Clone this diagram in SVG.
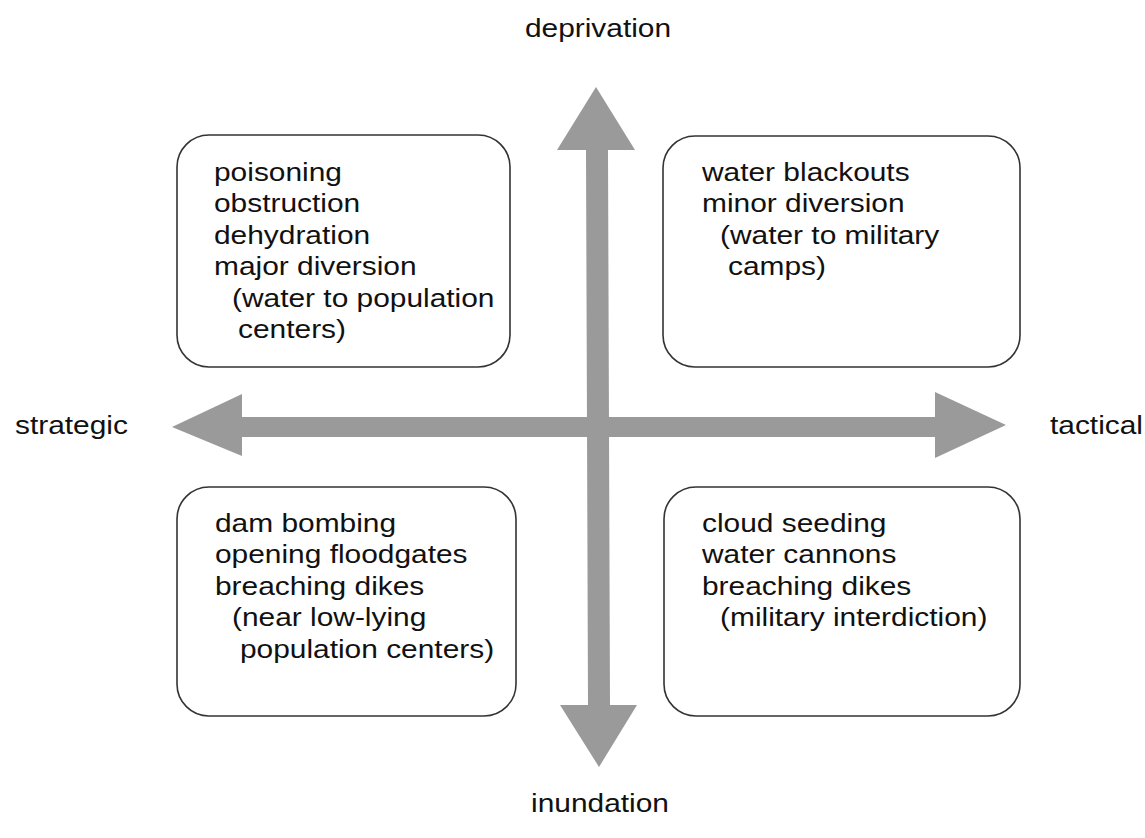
<svg xmlns="http://www.w3.org/2000/svg" width="1145" height="838" viewBox="0 0 1145 838">
<style>
.box{fill:#fff;stroke:#333;stroke-width:1.6}
.t{font-family:"Liberation Sans",Arial,sans-serif;font-size:26px;fill:#111}
.axis{fill:#9a9a9a;stroke:none}
</style>
<rect width="1145" height="838" fill="#fff"/>
<g id="connectors">
<polygon class="axis" points="596,87 635,150 608,150 610,705 637,705 599,767 560,705 588,705 586,150 557,150"/>
<polygon class="axis" points="172,427 242,394 242,417 935,417 935,392 1006,425 935,458 935,437 242,437 242,456"/>
</g>
<g id="node-tl">
<rect class="box" x="177" y="135" width="333" height="232" rx="32"/>
<text class="t" transform="translate(214 181) scale(1.15 1)"><tspan x="0" y="0">poisoning</tspan><tspan x="0" y="31.4">obstruction</tspan><tspan x="0" y="62.8">dehydration</tspan><tspan x="0" y="94.2">major diversion</tspan><tspan x="15.7" y="125.6">(water to population</tspan><tspan x="20.9" y="157">centers)</tspan></text>
</g>
<g id="node-tr">
<rect class="box" x="663" y="136" width="357" height="231" rx="32"/>
<text class="t" transform="translate(702 181) scale(1.15 1)"><tspan x="0" y="0">water blackouts</tspan><tspan x="0" y="31.4">minor diversion</tspan><tspan x="15.7" y="62.8">(water to military</tspan><tspan x="22.6" y="94.2">camps)</tspan></text>
</g>
<g id="node-bl">
<rect class="box" x="177" y="487" width="339" height="229" rx="32"/>
<text class="t" transform="translate(215 532) scale(1.15 1)"><tspan x="0" y="0">dam bombing</tspan><tspan x="0" y="31.4">opening floodgates</tspan><tspan x="0" y="62.8">breaching dikes</tspan><tspan x="14.8" y="94.2">(near low-lying</tspan><tspan x="21.7" y="125.6">population centers)</tspan></text>
</g>
<g id="node-br">
<rect class="box" x="664" y="487" width="356" height="229" rx="32"/>
<text class="t" transform="translate(702 532) scale(1.15 1)"><tspan x="0" y="0">cloud seeding</tspan><tspan x="0" y="31.4">water cannons</tspan><tspan x="0" y="62.8">breaching dikes</tspan><tspan x="15.7" y="94.2">(military interdiction)</tspan></text>
</g>
<g id="label-deprivation"><text class="t" transform="translate(598 37) scale(1.15 1)" text-anchor="middle">deprivation</text></g>
<g id="label-inundation"><text class="t" transform="translate(600 812) scale(1.15 1)" text-anchor="middle">inundation</text></g>
<g id="label-strategic"><text class="t" transform="translate(15 434) scale(1.15 1)">strategic</text></g>
<g id="label-tactical"><text class="t" transform="translate(1050 434) scale(1.15 1)">tactical</text></g>
</svg>
